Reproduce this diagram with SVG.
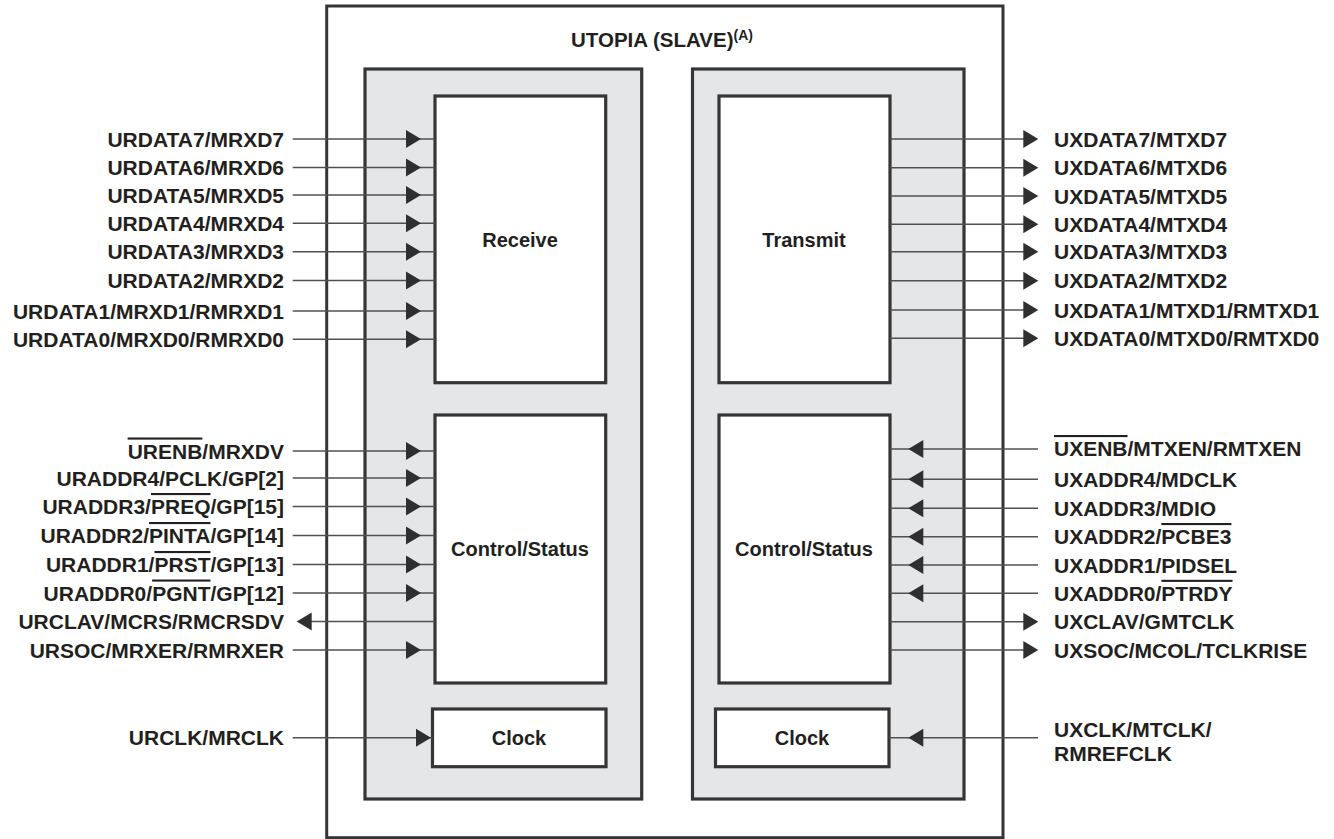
<svg xmlns="http://www.w3.org/2000/svg" xmlns:xlink="http://www.w3.org/1999/xlink" width="1334" height="839" viewBox="0 0 1334 839">
<style>
.box{fill:#fff;stroke:#353538;stroke-width:3.2}
.panel{fill:#e5e6e8;stroke:#353538;stroke-width:3.2}
.outer{fill:#fff;stroke:#353538;stroke-width:3}
.ln{stroke:#505052;stroke-width:1.5;fill:none}
.ah{fill:#2f2f31}
text{font-family:"Liberation Sans",Arial,sans-serif;font-weight:bold;font-size:21px;fill:#231f20}
.l{text-anchor:end}
.c{text-anchor:middle;font-size:20px}
.t{text-anchor:middle;font-size:20.5px}
.ov{text-decoration:overline}
</style>
<defs>
<path id="arrR" class="ah" d="M0,0 L-15,-9 L-15,9 Z"/>
<path id="arrL" class="ah" d="M0,0 L15,-9 L15,9 Z"/>
</defs>

<g id="utopia">
<rect class="outer" x="326.7" y="6" width="676.3" height="831.7"/>
<text class="t" x="662" y="47">UTOPIA (SLAVE)<tspan font-size="14" dy="-7">(A)</tspan></text>
</g>

<g id="rx-panel"><rect class="panel" x="365" y="69" width="276.7" height="730"/></g>
<g id="tx-panel"><rect class="panel" x="692.5" y="69" width="271.5" height="730"/></g>

<g id="receive"><rect class="box" x="435" y="96" width="170.7" height="286.7"/><text class="c" x="520" y="247">Receive</text></g>
<g id="rx-control"><rect class="box" x="435" y="415" width="170.7" height="268"/><text class="c" x="520" y="556">Control/Status</text></g>
<g id="rx-clock"><rect class="box" x="432.5" y="709" width="173.5" height="57.7"/><text class="c" x="519" y="745">Clock</text></g>

<g id="transmit"><rect class="box" x="719" y="96" width="171" height="286.7"/><text class="c" x="804" y="247">Transmit</text></g>
<g id="tx-control"><rect class="box" x="719" y="415" width="171" height="268"/><text class="c" x="804" y="556">Control/Status</text></g>
<g id="tx-clock"><rect class="box" x="715.5" y="709" width="173.5" height="57.7"/><text class="c" x="802" y="745">Clock</text></g>

<g id="connectors">
<line class="ln" x1="292.7" y1="139" x2="435" y2="139"/><use xlink:href="#arrR" x="421" y="139"/>
<line class="ln" x1="292.7" y1="167.5" x2="435" y2="167.5"/><use xlink:href="#arrR" x="421" y="167.5"/>
<line class="ln" x1="292.7" y1="195" x2="435" y2="195"/><use xlink:href="#arrR" x="421" y="195"/>
<line class="ln" x1="292.7" y1="223.3" x2="435" y2="223.3"/><use xlink:href="#arrR" x="421" y="223.3"/>
<line class="ln" x1="292.7" y1="251.7" x2="435" y2="251.7"/><use xlink:href="#arrR" x="421" y="251.7"/>
<line class="ln" x1="292.7" y1="280.5" x2="435" y2="280.5"/><use xlink:href="#arrR" x="421" y="280.5"/>
<line class="ln" x1="292.7" y1="311" x2="435" y2="311"/><use xlink:href="#arrR" x="421" y="311"/>
<line class="ln" x1="292.7" y1="339.3" x2="435" y2="339.3"/><use xlink:href="#arrR" x="421" y="339.3"/>
<line class="ln" x1="292.7" y1="451" x2="435" y2="451"/><use xlink:href="#arrR" x="421" y="451"/>
<line class="ln" x1="292.7" y1="478" x2="435" y2="478"/><use xlink:href="#arrR" x="421" y="478"/>
<line class="ln" x1="292.7" y1="506.5" x2="435" y2="506.5"/><use xlink:href="#arrR" x="421" y="506.5"/>
<line class="ln" x1="292.7" y1="535.5" x2="435" y2="535.5"/><use xlink:href="#arrR" x="421" y="535.5"/>
<line class="ln" x1="292.7" y1="564.5" x2="435" y2="564.5"/><use xlink:href="#arrR" x="421" y="564.5"/>
<line class="ln" x1="292.7" y1="593" x2="435" y2="593"/><use xlink:href="#arrR" x="421" y="593"/>
<line class="ln" x1="311" y1="621.5" x2="435" y2="621.5"/><use xlink:href="#arrL" x="296.7" y="621.5"/>
<line class="ln" x1="292.7" y1="650" x2="435" y2="650"/><use xlink:href="#arrR" x="421" y="650"/>
<line class="ln" x1="292.7" y1="737.7" x2="432.5" y2="737.7"/><use xlink:href="#arrR" x="431" y="737.7"/>
<line class="ln" x1="890" y1="139" x2="1024" y2="139"/><use xlink:href="#arrR" x="1038.3" y="139"/>
<line class="ln" x1="890" y1="167.7" x2="1024" y2="167.7"/><use xlink:href="#arrR" x="1038.3" y="167.7"/>
<line class="ln" x1="890" y1="196" x2="1024" y2="196"/><use xlink:href="#arrR" x="1038.3" y="196"/>
<line class="ln" x1="890" y1="224.3" x2="1024" y2="224.3"/><use xlink:href="#arrR" x="1038.3" y="224.3"/>
<line class="ln" x1="890" y1="251.7" x2="1024" y2="251.7"/><use xlink:href="#arrR" x="1038.3" y="251.7"/>
<line class="ln" x1="890" y1="280.7" x2="1024" y2="280.7"/><use xlink:href="#arrR" x="1038.3" y="280.7"/>
<line class="ln" x1="890" y1="310" x2="1024" y2="310"/><use xlink:href="#arrR" x="1038.3" y="310"/>
<line class="ln" x1="890" y1="338.3" x2="1024" y2="338.3"/><use xlink:href="#arrR" x="1038.3" y="338.3"/>
<line class="ln" x1="890" y1="449" x2="1038" y2="449"/><use xlink:href="#arrL" x="908.3" y="449"/>
<line class="ln" x1="890" y1="479.3" x2="1038" y2="479.3"/><use xlink:href="#arrL" x="908.3" y="479.3"/>
<line class="ln" x1="890" y1="508.3" x2="1038" y2="508.3"/><use xlink:href="#arrL" x="908.3" y="508.3"/>
<line class="ln" x1="890" y1="536.7" x2="1038" y2="536.7"/><use xlink:href="#arrL" x="908.3" y="536.7"/>
<line class="ln" x1="890" y1="565" x2="1038" y2="565"/><use xlink:href="#arrL" x="908.3" y="565"/>
<line class="ln" x1="890" y1="593.3" x2="1038" y2="593.3"/><use xlink:href="#arrL" x="908.3" y="593.3"/>
<line class="ln" x1="890" y1="621.7" x2="1024" y2="621.7"/><use xlink:href="#arrR" x="1038.3" y="621.7"/>
<line class="ln" x1="890" y1="650" x2="1024" y2="650"/><use xlink:href="#arrR" x="1038.3" y="650"/>
<line class="ln" x1="889" y1="737.7" x2="1038" y2="737.7"/><use xlink:href="#arrL" x="908.3" y="737.7"/>
</g>

<g id="left-labels">
<text class="l" x="284" y="146.5">URDATA7/MRXD7</text>
<text class="l" x="284" y="175">URDATA6/MRXD6</text>
<text class="l" x="284" y="202.5">URDATA5/MRXD5</text>
<text class="l" x="284" y="230.8">URDATA4/MRXD4</text>
<text class="l" x="284" y="259.2">URDATA3/MRXD3</text>
<text class="l" x="284" y="288">URDATA2/MRXD2</text>
<text class="l" x="284" y="318.5">URDATA1/MRXD1/RMRXD1</text>
<text class="l" x="284" y="346.8">URDATA0/MRXD0/RMRXD0</text>
<text class="l" x="284" y="458.5"><tspan class="ov">URENB</tspan>/MRXDV</text>
<text class="l" x="284" y="485.5">URADDR4/PCLK/GP[2]</text>
<text class="l" x="284" y="514">URADDR3/<tspan class="ov">PREQ</tspan>/GP[15]</text>
<text class="l" x="284" y="543">URADDR2/<tspan class="ov">PINTA</tspan>/GP[14]</text>
<text class="l" x="284" y="572">URADDR1/<tspan class="ov">PRST</tspan>/GP[13]</text>
<text class="l" x="284" y="600.5">URADDR0/<tspan class="ov">PGNT</tspan>/GP[12]</text>
<text class="l" x="284" y="629">URCLAV/MCRS/RMCRSDV</text>
<text class="l" x="284" y="657.5">URSOC/MRXER/RMRXER</text>
<text class="l" x="284" y="745">URCLK/MRCLK</text>
</g>

<g id="right-labels">
<text x="1054" y="146.5">UXDATA7/MTXD7</text>
<text x="1054" y="175.2">UXDATA6/MTXD6</text>
<text x="1054" y="203.5">UXDATA5/MTXD5</text>
<text x="1054" y="231.8">UXDATA4/MTXD4</text>
<text x="1054" y="259.2">UXDATA3/MTXD3</text>
<text x="1054" y="288.2">UXDATA2/MTXD2</text>
<text x="1054" y="317.5">UXDATA1/MTXD1/RMTXD1</text>
<text x="1054" y="345.8">UXDATA0/MTXD0/RMTXD0</text>
<text x="1054" y="456"><tspan class="ov">UXENB</tspan>/MTXEN/RMTXEN</text>
<text x="1054" y="486.5">UXADDR4/MDCLK</text>
<text x="1054" y="515.5">UXADDR3/MDIO</text>
<text x="1054" y="544">UXADDR2/<tspan class="ov">PCBE3</tspan></text>
<text x="1054" y="572.5">UXADDR1/PIDSEL</text>
<text x="1054" y="600.8">UXADDR0/<tspan class="ov">PTRDY</tspan></text>
<text x="1054" y="629.2">UXCLAV/GMTCLK</text>
<text x="1054" y="657.5">UXSOC/MCOL/TCLKRISE</text>
<text x="1054" y="737">UXCLK/MTCLK/</text>
<text x="1054" y="761">RMREFCLK</text>
</g>
</svg>
